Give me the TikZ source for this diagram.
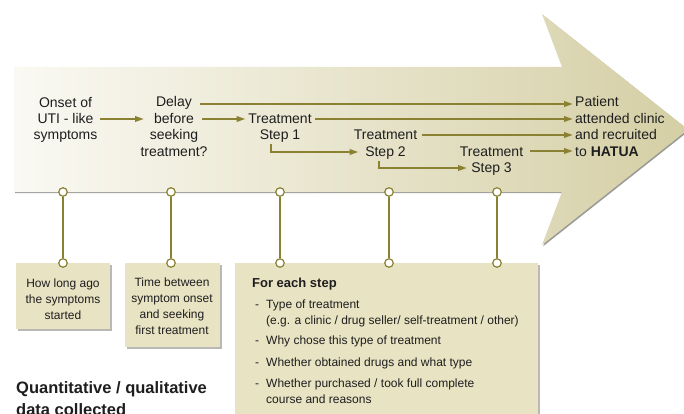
\documentclass[tikz,border=0pt]{standalone}
\usepackage{fontspec}
\setmainfont{Liberation Sans}
\usetikzlibrary{arrows.meta,shadows}
\definecolor{textdark}{HTML}{1E1E1E}
\definecolor{lineolive}{HTML}{8A8133}
\definecolor{boxfill}{HTML}{E8E3C3}
\definecolor{arrowlight}{HTML}{FAF9F3}
\definecolor{arrowdark}{HTML}{D5CFA5}
\definecolor{shadowgrey}{HTML}{9A9A96}
\begin{document}
\begin{tikzpicture}[x=1pt,y=-1pt,
  conn/.style={draw=lineolive, line width=2pt, -{Triangle[length=9pt,width=5.5pt]}},
  stem/.style={draw=lineolive, line width=2pt},
  pinc/.style={circle, draw=lineolive, fill=white, line width=1.2pt, minimum size=8.5pt, inner sep=0pt},
  lbl/.style={font=\fontsize{14}{16.4}\selectfont, text=textdark, align=center, inner sep=0pt, anchor=base},
  boxtxt/.style={font=\fontsize{12}{16}\selectfont, text=textdark, align=center, inner sep=0pt, anchor=base},
  itemtxt/.style={font=\fontsize{12}{16}\selectfont, text=textdark, align=left, inner sep=0pt, anchor=base west},
  infobox/.style={fill=boxfill, draw=none, inner sep=0pt, anchor=north west,
    drop shadow={shadow xshift=1.6pt, shadow yshift=-1.6pt, fill=shadowgrey, opacity=0.7}},
]
\useasboundingbox (0,0) rectangle (684,414);

% big arrow: shadow then shaded shape
\fill[shadowgrey, shift={(1.2,1.2)}] (14,67) -- (562,67) -- (542,14) -- (688,129.5) -- (542,245) -- (562,192) -- (14,192) -- cycle;
\shade[left color=arrowlight, right color=arrowdark] (14,67) -- (562,67) -- (542,14) -- (688,129.5) -- (542,245) -- (562,192) -- (14,192) -- cycle;

% info boxes
\node[infobox, minimum width=94pt, minimum height=66pt] (box1) at (16,263) {};
\node[infobox, minimum width=95pt, minimum height=84pt] (box2) at (125,263) {};
\node[infobox, minimum width=303pt, minimum height=170pt] (box3) at (235,263) {};

% pins and stems
\foreach \i/\x in {1/63,2/171,3/280,4/389,5/497}{
  \node[pinc] (pt\i) at (\x,192) {};
  \node[pinc] (pb\i) at (\x,263) {};
  \draw[stem] (pt\i) -- (pb\i);
}

% timeline labels (base = baseline of last line)
\node[lbl] (onset) at (65.5,139.8) {Onset of\\UTI - like\\symptoms};
\node[lbl] (delay) at (174,156.2) {Delay\\before\\seeking\\treatment?};
\node[lbl] (step1) at (280,139.9) {Treatment\\Step 1};
\node[lbl] (step2) at (385.5,156.4) {Treatment\\Step 2};
\node[lbl] (step3) at (491.5,172.9) {Treatment\\Step 3};
\node[lbl, align=left, anchor=base west] (patient) at (575,156.2) {Patient\\attended clinic\\and recruited\\to \textbf{HATUA}};

% connector end points
\coordinate (onsetR) at (100,119);
\coordinate (delayL) at (144,119);
\coordinate (delayR1) at (200,104);
\coordinate (delayR2) at (202,119);
\coordinate (step1L) at (245.5,119);
\coordinate (step1R) at (315,119);
\coordinate (step1B) at (271,144);
\coordinate (step2L) at (358.5,152);
\coordinate (step2R) at (422,135);
\coordinate (step2B) at (379,161);
\coordinate (step3L) at (467,168);
\coordinate (step3R) at (530,151);
\coordinate (patL1) at (573,104);
\coordinate (patL2) at (573,119);
\coordinate (patL3) at (573,135);
\coordinate (patL4) at (573,151);

\draw[conn] (onsetR) -- (delayL);
\draw[conn] (delayR1) -- (patL1);
\draw[conn] (delayR2) -- (step1L);
\draw[conn] (step1R) -- (patL2);
\draw[conn] (step1B) |- (step2L);
\draw[conn] (step2R) -- (patL3);
\draw[conn] (step2B) |- (step3L);
\draw[conn] (step3R) -- (patL4);

% box texts
\node[boxtxt] (t1) at (63,319.5) {How long ago\\the symptoms\\started};
\node[boxtxt] (t2) at (172,334.5) {Time between\\symptom onset\\and seeking\\first treatment};
\node[itemtxt, font=\bfseries\fontsize{13}{16}\selectfont] (head3) at (252,287) {For each step};
\node[itemtxt] (d1) at (255,308) {-};
\node[itemtxt] (i1) at (266,324) {Type of treatment\\(e.g. a clinic / drug seller/ self-treatment / other)};
\node[itemtxt] (d2) at (255,344) {-};
\node[itemtxt] (i2) at (266,344) {Why chose this type of treatment};
\node[itemtxt] (d3) at (255,366) {-};
\node[itemtxt] (i3) at (266,366) {Whether obtained drugs and what type};
\node[itemtxt] (d4) at (255,387) {-};
\node[itemtxt] (i4) at (266,403) {Whether purchased / took full complete\\course and reasons};

% caption (cut off at the lower edge, as in the reference)
\node[itemtxt, font=\bfseries\fontsize{16.5}{22.5}\selectfont] (caption) at (16,415.5) {Quantitative / qualitative\\data collected};
\end{tikzpicture}
\end{document}
